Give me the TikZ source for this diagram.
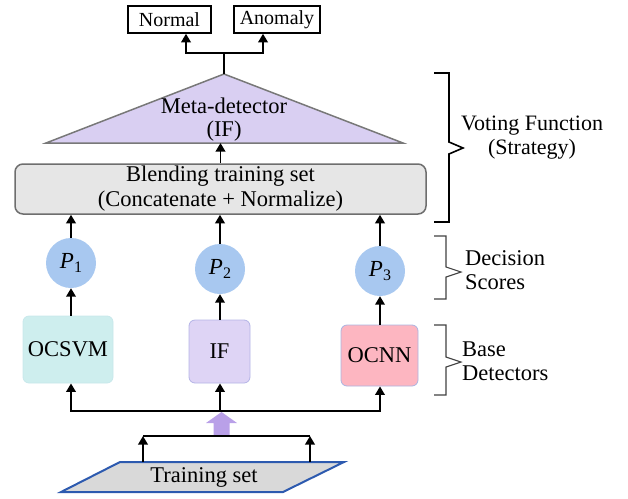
\documentclass[tikz,border=0pt]{standalone}
\usepackage{fontspec}
\setmainfont{Liberation Serif}
\usetikzlibrary{arrows.meta,calc}
\definecolor{tri}{RGB}{217,207,242}
\definecolor{trib}{RGB}{120,120,120}
\definecolor{blendf}{RGB}{230,230,230}
\definecolor{blendb}{RGB}{110,110,110}
\definecolor{circ}{RGB}{168,200,240}
\definecolor{cyanf}{RGB}{206,238,238}
\definecolor{cyanb}{RGB}{200,232,235}
\definecolor{iff}{RGB}{222,212,245}
\definecolor{ifb}{RGB}{180,180,230}
\definecolor{pinkf}{RGB}{253,182,193}
\definecolor{pinkb}{RGB}{170,180,225}
\definecolor{purp}{RGB}{185,160,232}
\definecolor{trainf}{RGB}{217,217,217}
\definecolor{trainb}{RGB}{45,90,175}
\newcommand{\pscore}[1]{\textit{P}\raisebox{-0.35ex}{\fontsize{16}{16}\selectfont #1}}
\begin{document}
\begin{tikzpicture}[x=1pt,y=-1pt,
  font=\fontsize{22.5}{23}\selectfont,
  arr/.style={line width=1.9pt,-{Triangle[length=8.5pt,width=9.5pt]}},
  ln/.style={line width=1.9pt},
  outbox/.style={draw,line width=1.6pt,minimum height=27pt,inner sep=0pt,font=\fontsize{20}{21}\selectfont},
  score/.style={circle,fill=circ,minimum size=50pt,inner sep=0pt,font=\fontsize{23}{23}\selectfont},
  det/.style={rounded corners=6pt,draw,line width=0.8pt,inner sep=0pt},
  brk/.style={line width=1.6pt},
  brk2/.style={line width=1.1pt,draw=darkgray},
  lab/.style={align=left,anchor=west,inner sep=0pt,font=\fontsize{22.5}{24}\selectfont}
]
\useasboundingbox (0,0) rectangle (628,498);

% outputs
\node[outbox,minimum width=83pt] (normal) at (169.5,19.5) {Normal};
\node[outbox,minimum width=86pt] (anomaly) at (277,19.5) {Anomaly};

% meta-detector triangle
\coordinate (apex) at (224,74);
\coordinate (bl) at (46,143);
\coordinate (br) at (403,143);
\draw[fill=tri,draw=trib,line width=1.5pt] (apex) -- (br) -- (bl) -- cycle;
\node[align=center,inner sep=0pt] (meta) at (224,120) {Meta-detector\\(IF)};

\coordinate (split) at (224,53);
\draw[ln] (apex) -- (split);
\draw[arr] (split) -| ($(normal.south)+(16.5,0)$);
\draw[arr] (split) -| ($(anomaly.south)+(-14,0)$);

% blending
\node[draw=blendb,fill=blendf,rounded corners=8pt,line width=1.5pt,minimum width=411pt,minimum height=50pt,align=center,inner sep=0pt,font=\fontsize{22.5}{25}\selectfont] (blend) at (220.5,189) {Blending training set\\(Concatenate + Normalize)};
\draw[arr] (blend.north) -- (blend.north |- bl);

% scores
\node[score] (p1) at (71,263) {\pscore{1}};
\node[score] (p2) at (220,269) {\pscore{2}};
\node[score] (p3) at (380,271) {\pscore{3}};
\draw[arr] (p1) -- (p1 |- blend.south);
\draw[arr] (p2) -- (p2 |- blend.south);
\draw[arr] (p3) -- (p3 |- blend.south);

% base detectors
\node[det,fill=cyanf,draw=cyanb,minimum width=90pt,minimum height=67pt] (ocsvm) at (68,349.5) {OCSVM};
\node[det,fill=iff,draw=ifb,minimum width=61pt,minimum height=63pt] (if) at (219.5,351.5) {IF};
\node[det,fill=pinkf,draw=pinkb,minimum width=77pt,minimum height=61pt] (ocnn) at (379.5,355.5) {OCNN};
\draw[arr] (ocsvm.north -| p1) -- (p1.south);
\draw[arr] (if.north -| p2) -- (p2.south);
\draw[arr] (ocnn.north -| p3) -- (p3.south);

% distribution
\coordinate (d2) at (220,411);
\draw[arr] (d2) -| (ocsvm.south -| p1);
\draw[arr] (d2) -| (ocnn.south -| p3);
\draw[arr] (d2) -- (if.south -| d2);

% purple arrow
\fill[purp] (213.5,436) -- (213.5,423) -- (206,423) -- (221.5,412) -- (237,423) -- (229.5,423) -- (229.5,436) -- cycle;

% training set
\draw[fill=trainf,draw=trainb,line width=2pt] (120,462) -- (344,462) -- (283,492) -- (61,492) -- cycle;
\node (train) at (204,477) {Training set};
\coordinate (t1) at (143,436);
\coordinate (t2) at (310,436);
\draw[ln] (t1) -- (t2);
\draw[arr] (t1 |- 0,462) -- (t1);
\draw[arr] (t2 |- 0,462) -- (t2);

% braces
\draw[brk] (434,73) -- (449,73) -- (449,142) -- (463,148) -- (449,154) -- (449,222) -- (434,222);
\draw[brk2] (434,236) -- (446,236) -- (446,267) -- (461,272) -- (446,277) -- (446,299) -- (434,299);
\draw[brk2] (434,325) -- (446,325) -- (446,357) -- (461,362) -- (446,367) -- (446,395) -- (434,395);

\node[align=center,inner sep=0pt,font=\fontsize{22}{24}\selectfont] (vote) at (532,138) {Voting Function\\(Strategy)};
\node[lab] (dec) at (465,270) {Decision\\Scores};
\node[lab] (base) at (462,361) {Base\\Detectors};
\end{tikzpicture}
\end{document}
